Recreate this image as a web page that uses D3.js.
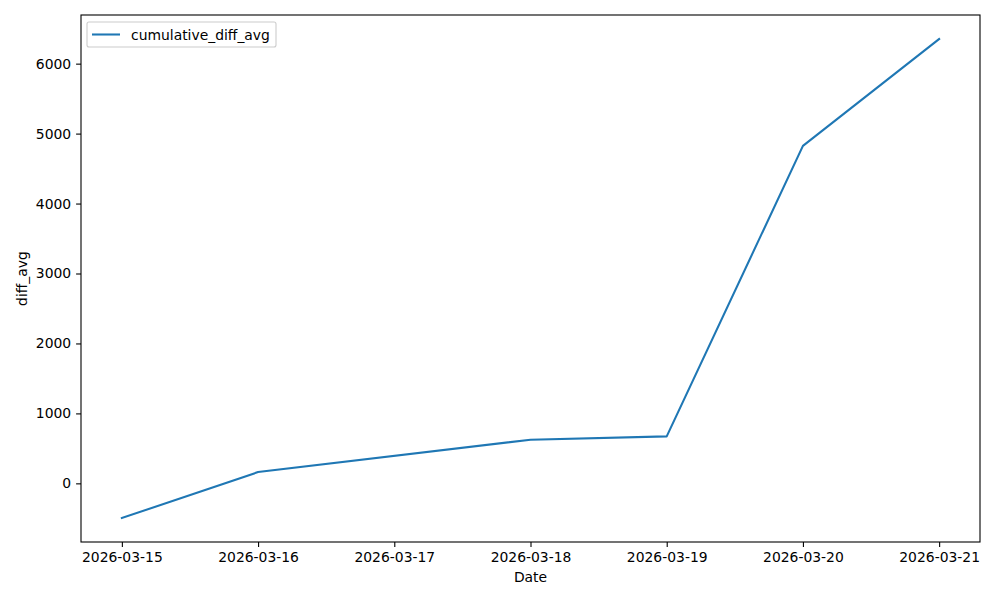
<!DOCTYPE html>
<html>
<head>
<meta charset="utf-8">
<script src="https://cdn.jsdelivr.net/npm/d3@7"></script>
<style>
body { margin: 0; background: #fff; }
svg text { font-family: "DejaVu Sans", sans-serif; }
</style>
</head>
<body>
<svg id="chart" width="1000" height="600"></svg>
<script>
const dates = ["2026-03-15", "2026-03-16", "2026-03-18", "2026-03-19", "2026-03-20", "2026-03-21"];
const values = [-496, 161, 624, 671, 4824, 6353];
const xTickLabels = ["2026-03-15", "2026-03-16", "2026-03-17", "2026-03-18", "2026-03-19", "2026-03-20", "2026-03-21"];
const yTicks = [0, 1000, 2000, 3000, 4000, 5000, 6000];
const seriesName = "cumulative_diff_avg";

const parse = d3.utcParse("%Y-%m-%d");
const data = dates.map((d, i) => ({ date: parse(d), value: values[i] }));

const W = 1000, H = 600;
const m = { left: 81, right: 20, top: 15, bottom: 58 };
const pw = W - m.left - m.right, ph = H - m.top - m.bottom;

const svg = d3.select("#chart");
const g = svg.append("g").attr("transform", `translate(${m.left},${m.top})`);

const xMin = d3.min(data, d => d.date), xMax = d3.max(data, d => d.date);
const xSpan = xMax - xMin;
const x = d3.scaleUtc()
  .domain([new Date(+xMin - 0.05 * xSpan), new Date(+xMax + 0.05 * xSpan)])
  .range([0, pw]);
const yMin = d3.min(values), yMax = d3.max(values);
const ySpan = yMax - yMin;
const y = d3.scaleLinear()
  .domain([yMin - 0.05 * ySpan, yMax + 0.05 * ySpan])
  .range([ph, 0]);

const xAxis = d3.axisBottom(x)
  .tickValues(xTickLabels.map(parse))
  .tickFormat(d3.utcFormat("%Y-%m-%d"))
  .tickSizeOuter(0).tickSize(4.9).tickPadding(4.9);
const yAxis = d3.axisLeft(y)
  .tickValues(yTicks)
  .tickFormat(d3.format("d"))
  .tickSizeOuter(0).tickSize(4.9).tickPadding(4.9);

const gx = g.append("g").attr("transform", `translate(0,${ph})`).call(xAxis);
const gy = g.append("g").call(yAxis);
[gx, gy].forEach(a => {
  a.select(".domain").remove();
  a.selectAll("text").attr("font-size", 13.9).attr("fill", "#000").attr("font-family", "DejaVu Sans, sans-serif");
  a.selectAll("line").attr("stroke", "#000").attr("stroke-width", 1.1);
});

const line = d3.line().x(d => x(d.date)).y(d => y(d.value));
g.append("path").datum(data)
  .attr("d", line)
  .attr("fill", "none")
  .attr("stroke", "#1f77b4")
  .attr("stroke-width", 2.08)
  .attr("stroke-linejoin", "round")
  .attr("stroke-linecap", "square");

g.append("rect").attr("x", 0).attr("y", 0).attr("width", pw).attr("height", ph)
  .attr("fill", "none").attr("stroke", "#000").attr("stroke-width", 1.1);

svg.append("text").attr("x", m.left + pw / 2).attr("y", 582)
  .attr("text-anchor", "middle").attr("font-size", 13.9).text("Date");
svg.append("text").attr("transform", `translate(27,${m.top + ph / 2}) rotate(-90)`)
  .attr("text-anchor", "middle").attr("font-size", 13.9).text("diff_avg");

const lg = svg.append("g").attr("transform", "translate(87,22)");
lg.append("rect").attr("x", 0).attr("y", 0).attr("width", 189).attr("height", 25)
  .attr("rx", 2).attr("fill", "#fff").attr("fill-opacity", 0.8)
  .attr("stroke", "#cccccc").attr("stroke-width", 1.1);
lg.append("line").attr("x1", 5).attr("x2", 33).attr("y1", 12.5).attr("y2", 12.5)
  .attr("stroke", "#1f77b4").attr("stroke-width", 2.08);
lg.append("text").attr("x", 44).attr("y", 17.5).attr("font-size", 13.9).text(seriesName);
</script>
</body>
</html>
